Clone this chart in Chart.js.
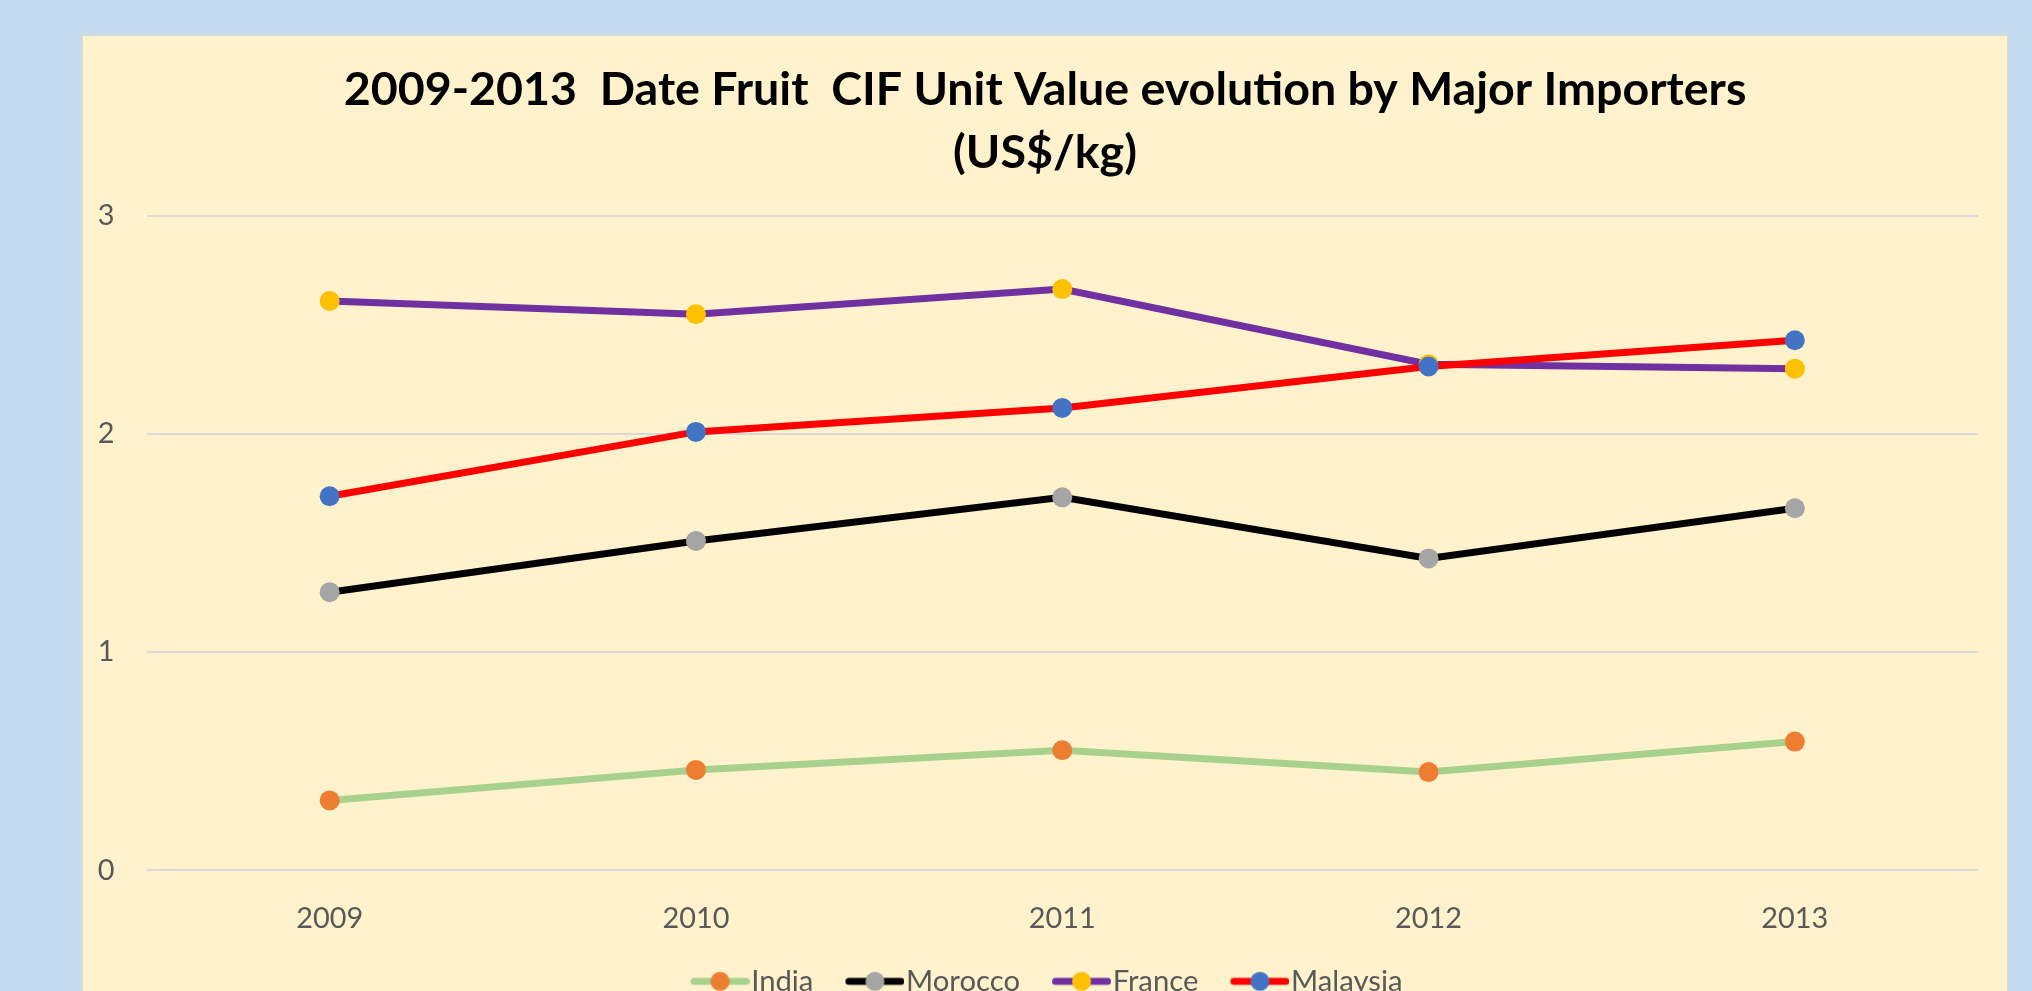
<!DOCTYPE html>
<html>
<head>
<meta charset="utf-8">
<script src="https://cdn.jsdelivr.net/npm/chart.js@4.4.1/dist/chart.umd.min.js"></script>
<style>
html, body { margin: 0; padding: 0; width: 2032px; height: 991px; overflow: hidden; background: #C4DBF0; }
#panel { position: absolute; left: 81px; top: 34px; width: 1924px; height: 1000px; background: #FFF2CC; border: 2px solid #D9D9D9; }
#c { display: block; }
</style>
</head>
<body>
<div id="panel"><canvas id="c" width="1924" height="1000"></canvas></div>
<script>
// ---- data ----
const categories = ['2009', '2010', '2011', '2012', '2013'];
const seriesNames = ['India', 'Morocco', 'France', 'Malaysia'];
const indiaValues = [0.32, 0.46, 0.55, 0.45, 0.59];
const moroccoValues = [1.275, 1.51, 1.71, 1.43, 1.66];
const franceValues = [2.61, 2.55, 2.665, 2.32, 2.30];
const malaysiaValues = [1.715, 2.01, 2.12, 2.31, 2.43];
const yTicks = [0, 1, 2, 3];
const titleLines = ['2009-2013  Date Fruit  CIF Unit Value evolution by Major Importers', '(US$/kg)'];

// ---- styles ----
const FAMILY = '"Lato", "Open Sans", sans-serif';
const lineColors = ['#A9D18E', '#000000', '#7030A0', '#FF0000'];
const dotColors = ['#ED7D31', '#A5A5A5', '#FFC000', '#4472C4'];
const drawOrder = [4, 3, 2, 1];

function fitSize(text, weight, target) {
  const g = document.createElement('canvas').getContext('2d');
  g.font = weight + ' 100px ' + FAMILY;
  return 100 * target / g.measureText(text).width;
}
const titleSize = fitSize(titleLines[0], 'bold', 1403);
const tickSize = fitSize('2009', 'normal', 67);
const legendSize = fitSize('Morocco', 'normal', 114);

function legendSymbol(lineColor, dotColor) {
  const cv = document.createElement('canvas');
  cv.width = 75; cv.height = 24;
  const g = cv.getContext('2d');
  g.strokeStyle = lineColor; g.lineWidth = 7; g.lineCap = 'round';
  g.beginPath(); g.moveTo(19.5, 12); g.lineTo(71.5, 12); g.stroke();
  g.fillStyle = dotColor;
  g.beginPath(); g.arc(45.5, 12, 9.5, 0, Math.PI * 2); g.fill();
  return cv;
}
const symbols = lineColors.map((c, i) => legendSymbol(c, dotColors[i]));

const seriesValues = [indiaValues, moroccoValues, franceValues, malaysiaValues];
const datasets = seriesNames.map((name, i) => ({
  label: name,
  data: seriesValues[i],
  borderColor: lineColors[i],
  backgroundColor: dotColors[i],
  borderWidth: 7,
  tension: 0,
  fill: false,
  pointRadius: 10,
  pointHoverRadius: 10,
  pointBorderWidth: 0,
  pointBackgroundColor: dotColors[i],
  pointBorderColor: dotColors[i],
  order: drawOrder[i],
  clip: false
}));

new Chart(document.getElementById('c'), {
  type: 'line',
  data: { labels: categories, datasets },
  options: {
    responsive: false,
    devicePixelRatio: 1,
    animation: false,
    events: [],
    layout: { padding: { left: 0, right: 0, top: 0, bottom: 30 } },
    plugins: {
      tooltip: { enabled: false },
      title: {
        display: true,
        text: titleLines,
        color: '#000000',
        font: { family: FAMILY, size: titleSize, weight: 'bold', lineHeight: 63 / titleSize },
        padding: { top: 22, bottom: 32 }
      },
      legend: {
        position: 'bottom',
        labels: {
          usePointStyle: true,
          pointStyleWidth: 49,
          padding: 29,
          color: '#595959',
          font: { family: FAMILY, size: legendSize },
          generateLabels(chart) {
            const items = Chart.defaults.plugins.legend.labels.generateLabels(chart);
            items.forEach(it => { it.pointStyle = symbols[it.datasetIndex]; });
            return items;
          },
          sort: (a, b) => a.datasetIndex - b.datasetIndex
        }
      }
    },
    scales: {
      x: {
        type: 'category',
        offset: true,
        grid: { display: false },
        border: { display: false },
        ticks: { color: '#595959', font: { family: FAMILY, size: tickSize }, padding: 23.5, maxRotation: 0 },
        afterFit(s) { s.height = 67.5; }
      },
      y: {
        min: 0,
        max: 3,
        afterBuildTicks(s) { s.ticks = yTicks.map(v => ({ value: v })); },
        grid: { color: '#D9D9D9', lineWidth: 2, drawTicks: false },
        border: { display: false },
        ticks: { color: '#595959', font: { family: FAMILY, size: tickSize }, padding: 32 },
        afterFit(s) { s.width = 63.5; }
      },
      yRight: {
        position: 'right',
        min: 0,
        max: 3,
        grid: { display: false },
        border: { display: false },
        ticks: { display: false },
        afterFit(s) { s.width = 29; }
      }
    }
  }
});
</script>
</body>
</html>
